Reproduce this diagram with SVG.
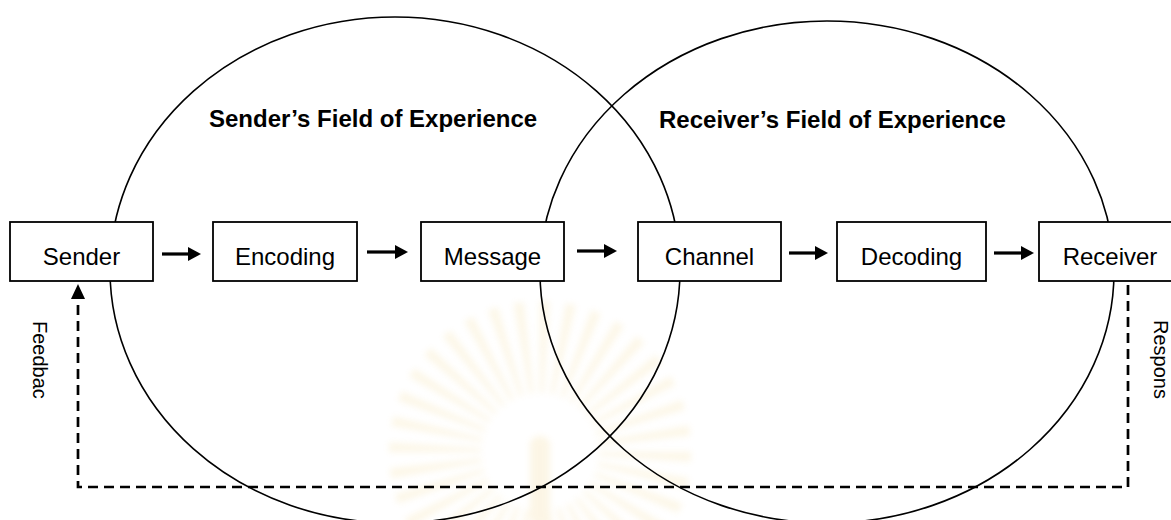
<svg xmlns="http://www.w3.org/2000/svg" width="1171" height="520" viewBox="0 0 1171 520">
  <defs>
    <style>
      .field { fill: none; stroke: #000; stroke-width: 1.6; }
      .box rect { fill: #fff; stroke: #000; stroke-width: 1.8; }
      .box text { font-family: "Liberation Sans", Arial, sans-serif; font-size: 24px; fill: #000; text-anchor: middle; }
      .title { font-family: "Liberation Sans", Arial, sans-serif; font-size: 24px; font-weight: bold; fill: #000; }
      .side { font-family: "Liberation Sans", Arial, sans-serif; font-size: 20px; fill: #000; }
      .flow { stroke: #000; stroke-width: 3.2; fill: none; marker-end: url(#head); }
      .loop { stroke: #000; stroke-width: 2.7; fill: none; stroke-dasharray: 10 6; marker-end: url(#head-dash); }
    </style>
    <marker id="head" markerUnits="userSpaceOnUse" viewBox="0 0 13 14" refX="3" refY="7" markerWidth="13" markerHeight="14" orient="auto">
      <path d="M0,0 L13,7 L0,14 Z" fill="#000"/>
    </marker>
    <marker id="head-dash" markerUnits="userSpaceOnUse" viewBox="0 0 15 14" refX="3" refY="7" markerWidth="15" markerHeight="14" orient="auto">
      <path d="M0,0 L15,7 L0,14 Z" fill="#000"/>
    </marker>
    <filter id="soft" filterUnits="userSpaceOnUse" x="0" y="0" width="1171" height="520">
      <feGaussianBlur stdDeviation="3"/>
    </filter>
  </defs>

  <rect width="1171" height="520" fill="#fff"/>

  <!-- faint seal watermark behind the drawing -->
  <g id="watermark" filter="url(#soft)" opacity="0.16">
    <circle cx="540" cy="452" r="105" fill="none" stroke="#f0cf75" stroke-width="92" stroke-dasharray="7 11.3"/>
    <rect x="530" y="436" width="20" height="90" rx="9" fill="#eec765"/>
  </g>

  <!-- fields of experience -->
  <g id="sender-field">
    <ellipse class="field" cx="395" cy="270" rx="285" ry="253"/>
    <text class="title" x="209" y="127">Sender’s Field of Experience</text>
  </g>
  <g id="receiver-field">
    <ellipse class="field" cx="827" cy="272" rx="287" ry="251"/>
    <text class="title" x="659" y="128">Receiver’s Field of Experience</text>
  </g>

  <!-- connectors -->
  <g id="connectors">
    <line class="flow" x1="162" y1="254" x2="191" y2="254"/>
    <line class="flow" x1="367" y1="252" x2="398" y2="252"/>
    <line class="flow" x1="577" y1="251" x2="607" y2="251"/>
    <line class="flow" x1="789" y1="253" x2="818" y2="253"/>
    <line class="flow" x1="994" y1="253" x2="1024" y2="253"/>
    <path class="loop" d="M1128,285 V487 H78 V296"/>
    <text class="side" transform="translate(33,321) rotate(90)">Feedbac</text>
    <text class="side" transform="translate(1154,320) rotate(90)">Respons</text>
  </g>

  <!-- process steps -->
  <g id="sender" class="box">
    <rect x="10" y="222" width="143" height="59"/>
    <text x="81.5" y="265">Sender</text>
  </g>
  <g id="encoding" class="box">
    <rect x="213" y="222" width="144" height="59"/>
    <text x="285" y="265">Encoding</text>
  </g>
  <g id="message" class="box">
    <rect x="421" y="222" width="143" height="59"/>
    <text x="492.5" y="265">Message</text>
  </g>
  <g id="channel" class="box">
    <rect x="638" y="222" width="143" height="59"/>
    <text x="709.5" y="265">Channel</text>
  </g>
  <g id="decoding" class="box">
    <rect x="837" y="222" width="149" height="59"/>
    <text x="911.5" y="265">Decoding</text>
  </g>
  <g id="receiver" class="box">
    <rect x="1039" y="222" width="145" height="59"/>
    <text x="1110" y="265">Receiver</text>
  </g>
</svg>
